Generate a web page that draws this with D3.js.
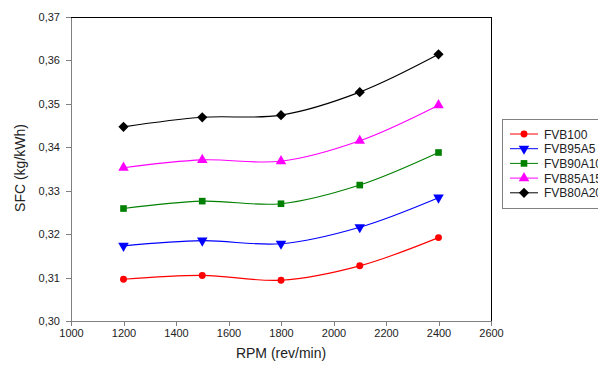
<!DOCTYPE html>
<html lang="en">
<head>
<meta charset="utf-8">
<title>SFC vs RPM</title>
<style>
body { margin: 0; background: #fff; }
.axis text { font: 11px "Liberation Sans", Arial, sans-serif; fill: #222; }
.axis path, .axis line { stroke: #808080; shape-rendering: crispEdges; }
.title { font: 14px "Liberation Sans", Arial, sans-serif; fill: #222; }
.legend text { font: 12px "Liberation Sans", Arial, sans-serif; fill: #222; }
</style>
</head>
<body>
<div id="chart"></div>
<script src="https://d3js.org/d3.v7.min.js"></script>
<script>
  var rpm = [1200, 1500, 1800, 2100, 2400];
  var seriesNames = ["FVB100", "FVB95A5", "FVB90A10", "FVB85A15", "FVB80A20"];
  var fvb100   = [0.3096, 0.3105, 0.3094, 0.3127, 0.3192];
  var fvb95a5  = [0.3173, 0.3185, 0.3178, 0.3216, 0.3284];
  var fvb90a10 = [0.3259, 0.3276, 0.3270, 0.3313, 0.3388];
  var fvb85a15 = [0.3353, 0.3371, 0.3368, 0.3415, 0.3497];
  var fvb80a20 = [0.3447, 0.3469, 0.3474, 0.3527, 0.3614];
  var xTicks = [1000, 1200, 1400, 1600, 1800, 2000, 2200, 2400, 2600];
  var yTicks = [0.30, 0.31, 0.32, 0.33, 0.34, 0.35, 0.36, 0.37];

  var colors = ["#ff0000", "#0000ff", "#008000", "#ff00ff", "#000000"];
  var symbols = ["circle", "down", "square", "up", "diamond"];
  var allValues = [fvb100, fvb95a5, fvb90a10, fvb85a15, fvb80a20];

  var series = seriesNames.map(function(name, i) {
    return { name: name, color: colors[i], symbol: symbols[i],
             points: rpm.map(function(r, j) { return { x: r, y: allValues[i][j] }; }) };
  });

  var svg = d3.select("#chart").append("svg")
    .attr("width", 598).attr("height", 369);

  var pLeft = 71, pRight = 491, pTop = 17, pBottom = 321;
  var x = d3.scaleLinear().domain([1000, 2600]).range([pLeft, pRight]);
  var y = d3.scaleLinear().domain([0.30, 0.37]).range([pBottom, pTop]);

  // frame top and right
  svg.append("line").attr("x1", pLeft).attr("x2", pRight + 0.5).attr("y1", pTop + 0.5).attr("y2", pTop + 0.5)
    .attr("stroke", "#000");
  svg.append("line").attr("x1", pRight + 0.5).attr("x2", pRight + 0.5).attr("y1", pTop).attr("y2", pBottom)
    .attr("stroke", "#000");

  svg.append("g").attr("class", "axis")
    .attr("transform", "translate(0," + pBottom + ")")
    .call(d3.axisBottom(x).tickValues(xTicks).tickSize(5).tickSizeOuter(0).tickPadding(3)
      .tickFormat(d3.format("d")));

  svg.append("g").attr("class", "axis")
    .attr("transform", "translate(" + pLeft + ",0)")
    .call(d3.axisLeft(y).tickValues(yTicks).tickSize(5).tickSizeOuter(0).tickPadding(6)
      .tickFormat(function(d) { return d3.format(".2f")(d).replace(".", ","); }));

  svg.append("text").attr("class", "title")
    .attr("x", 281).attr("y", 358).attr("text-anchor", "middle")
    .text("RPM (rev/min)");

  svg.append("text").attr("class", "title")
    .attr("transform", "translate(25,168) rotate(-90)")
    .attr("text-anchor", "middle")
    .text("SFC (kg/kWh)");

  function symbolPath(s) {
    if (s === "circle") return d3.symbol(d3.symbolCircle, 38)();
    if (s === "square") return d3.symbol(d3.symbolSquare, 44)();
    if (s === "diamond") return d3.symbol(d3.symbolSquare, 52)();
    return d3.symbol(d3.symbolTriangle, 48)();
  }
  function symbolRot(s) {
    if (s === "down") return " rotate(180)";
    if (s === "diamond") return " rotate(45)";
    return "";
  }

  var line = d3.line()
    .x(function(d) { return x(d.x); })
    .y(function(d) { return y(d.y); })
    .curve(d3.curveCatmullRom.alpha(0.5));

  var g = svg.append("g");
  series.forEach(function(s) {
    g.append("path").datum(s.points)
      .attr("fill", "none").attr("stroke", s.color).attr("stroke-width", 1.1)
      .attr("d", line);
    g.selectAll(null).data(s.points).enter().append("path")
      .attr("transform", function(d) { return "translate(" + x(d.x) + "," + y(d.y) + ")" + symbolRot(s.symbol); })
      .attr("d", symbolPath(s.symbol))
      .attr("fill", s.color);
  });

  // legend
  var lg = svg.append("g").attr("class", "legend");
  lg.append("rect").attr("x", 502.5).attr("y", 119.5).attr("width", 110).attr("height", 89)
    .attr("fill", "#fff").attr("stroke", "#808080");
  series.forEach(function(s, i) {
    var ly = 134 + i * 14.7;
    lg.append("line").attr("x1", 510).attr("x2", 538).attr("y1", ly).attr("y2", ly)
      .attr("stroke", s.color);
    lg.append("path")
      .attr("transform", "translate(524," + ly + ")" + symbolRot(s.symbol))
      .attr("d", symbolPath(s.symbol))
      .attr("fill", s.color);
    lg.append("text").attr("x", 544).attr("y", ly + 4.5).text(s.name);
  });
</script>
</body>
</html>
